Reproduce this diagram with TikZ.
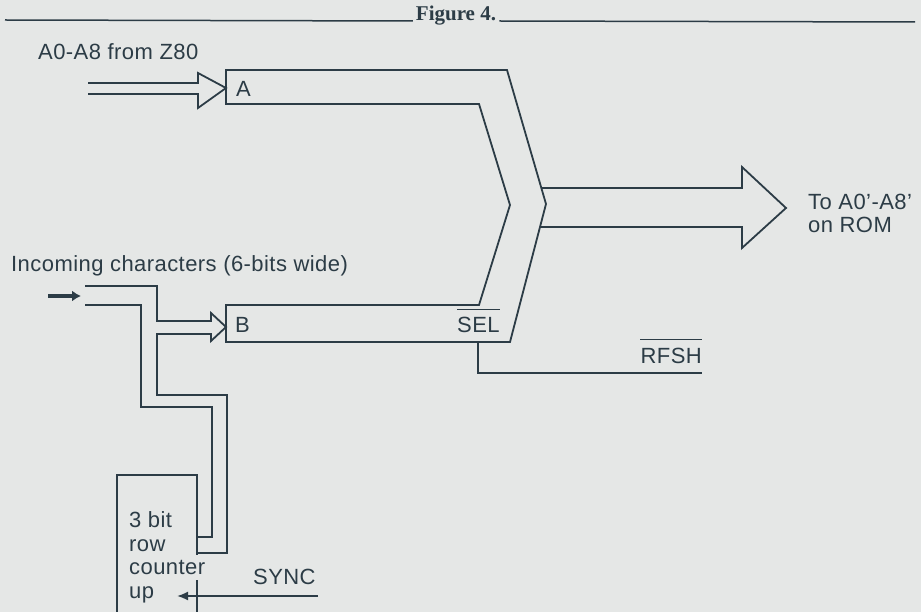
\documentclass[tikz,border=0pt]{standalone}
\usepackage{fontspec}
\setmainfont{Liberation Sans}[LetterSpace=2]
\newfontfamily\headfont{Liberation Serif}
\usetikzlibrary{arrows.meta}
\definecolor{ink}{RGB}{44,60,70}
\definecolor{paper}{RGB}{229,231,230}
\tikzset{
  bus/.style={draw=ink,line width=1.8pt,line join=miter},
  bar/.style={draw=ink,line width=1.5pt},
  lbl/.style={text=ink,inner sep=0pt,font=\fontsize{22}{23.5}\selectfont},
}

\begin{document}
\begin{tikzpicture}[x=1pt,y=-1pt]
  \fill[paper] (0,0) rectangle (921,612);
  \useasboundingbox (0,0) rectangle (921,612);
  % heading
  \node[text=ink,inner sep=0pt,anchor=base,font=\headfont\bfseries\fontsize{21}{22}\selectfont] (title) at (456,21) {Figure 4.};
  \draw[bar] (5,20) -- ([xshift=-3pt]title.base west);
  \draw[bar] ([xshift=3pt]title.base east) -- (915,22);

  % multiplexer
  \draw[bus] (226,104) -- (226,70) -- (507,70) coordinate (m1) -- (546,204) coordinate (tip)
    -- (510,342) coordinate (m2) -- (226,342) -- (226,305) -- (479,305) -- (510,205) -- (479,104) -- cycle;
  \node[lbl,anchor=base west] (A) at (236,97) {A};
  \node[lbl,anchor=base west] (B) at (235,332) {B};
  \node[lbl,anchor=base west] (sel) at (457,332) {SEL};
  \draw[bar] ([yshift=7pt]sel.north west) -- ([yshift=7pt]sel.north east);

  % output bus
  \draw[bus] (intersection of m1--tip and 0,188--1,188) -- (742,188) -- (742,167) -- (786,208)
    -- (742,248) -- (742,227) -- (intersection of tip--m2 and 0,227--1,227);
  \node[lbl,anchor=north west,align=left] (rom) at (808,193.5) {To A0'-A8'\\on ROM};

  % inputs
  \node[lbl,anchor=base west] (z80) at (38,60) {A0-A8 from Z80};
  \draw[bus] (88,83) -- (198,83) -- (198,73) -- (226,88) -- (198,108) -- (198,94) -- (88,94);
  \node[lbl,anchor=base west] (chars) at (11,272) {Incoming characters (6-bits wide)};
  \draw[ink,line width=3.5pt,-{Latex[length=9pt,width=11pt]}] (48,296) -- (81,296);
  \draw[bus] (85,286) -- (157,286) -- (157,321) -- (211,321) -- (211,313) -- (226,327) -- (211,341)
    -- (211,334) -- (157,334) -- (157,395) -- (227,395) -- (227,553) -- (197,553);
  \draw[bus] (85,305) -- (141,305) -- (141,407) -- (212,407) -- (212,537) -- (197,537);

  % row counter
  \draw[bus] (117,615) -- (117,475) -- (197,475) -- (197,555) (197,580) -- (197,615);
  \node[lbl,anchor=north west,align=left] (cnt) at (129,511.5) {3 bit\\row\\counter\\up};
  \draw[bus,-{Latex[length=11pt,width=9pt]}] (318,596) -- (177,596);
  \node[lbl,anchor=base west] (sync) at (253,584) {SYNC};

  % refresh
  \draw[bus] (478,342) -- (478,373) -- (702,373);
  \node[lbl,anchor=base east] (rfsh) at (702,363) {RFSH};
  \draw[bar] ([yshift=8pt]rfsh.north west) -- ([yshift=8pt]rfsh.north east);
\end{tikzpicture}
\end{document}
